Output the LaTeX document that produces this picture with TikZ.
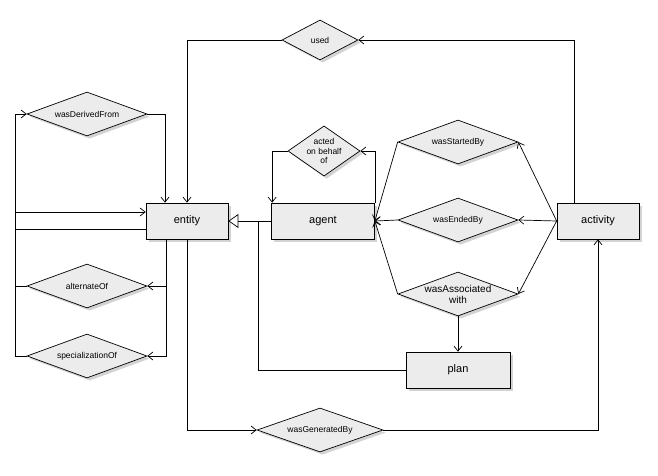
\documentclass[tikz,border=0pt]{standalone}
\usepackage{fontspec}
\setmainfont{Liberation Sans}
\usetikzlibrary{shapes.geometric,arrows.meta,shadows}

\begin{document}
\begin{tikzpicture}[x=1pt,y=-1pt, line width=0.7pt,
	box/.style={draw, fill=gray!15, drop shadow={opacity=0.35}, minimum width=82pt, minimum height=36pt, font=\fontsize{11}{12}\selectfont},
	rel/.style={draw, diamond, fill=gray!15, drop shadow={opacity=0.35}, aspect=2.7, inner sep=0pt, minimum width=120pt, minimum height=44pt, align=center, font=\fontsize{8.5}{9.5}\selectfont},
	arr/.style={-{Straight Barb[length=5pt,width=8pt]}}]

	\useasboundingbox (0,0) rectangle (658,476);

	%classes
	\node[box] (entity) at (187,221) {entity};
	\node[box, minimum width=103pt] (agent) at (323,221) {agent};
	\node[box] (activity) at (598,221) {activity};
	\node[box, minimum width=104pt] (plan) at (458,370) {plan};

	%relations
	\node[rel, minimum width=76pt, minimum height=40pt] (used) at (320,40) {used};
	\node[rel] (derived) at (87,114) {wasDerivedFrom};
	\node[rel, minimum width=72pt, aspect=1.4] (behalf) at (324,151) {acted\\on behalf\\of};
	\node[rel] (started) at (458,142) {wasStartedBy};
	\node[rel] (ended) at (458,220) {wasEndedBy};
	\node[rel, font=\fontsize{10}{11}\selectfont] (assoc) at (458,294) {wasAssociated\\with};
	\node[rel] (alternate) at (87,286) {alternateOf};
	\node[rel] (special) at (87,356) {specializationOf};
	\node[rel, minimum width=126pt] (generated) at (320,430) {wasGeneratedBy};

	%used
	\draw[arr] ([xshift=18pt]activity.north west) |- (used.east);
	\draw[arr] (used.west) -| (entity.north);

	%derivation
	\draw[arr] ([yshift=-8pt]entity.west) -| (15,114) -- (derived.west);
	\draw[arr] (derived.east) -| ([xshift=-22pt]entity.north);

	%alternate and specialization
	\draw[arr] (alternate.west) -- (15,286) |- ([yshift=9pt]entity.west);
	\draw (special.west) -| (15,286);
	\draw[arr] ([xshift=-21pt]entity.south) |- (special.east);
	\draw[arr] (166,286) -- (alternate.east);

	%generation
	\draw[arr] (entity.south) |- (generated.west);
	\draw[arr] (generated.east) -| (activity.south);

	%agent
	\draw[-{Triangle[open,fill=white,length=10pt,width=14pt]}] (agent.west) -- (entity.east);
	\draw (258,221) |- (plan.west);
	\draw[arr] (agent.north east) |- (behalf.east);
	\draw[arr] (behalf.west) -| ([xshift=1pt]agent.north west);

	%activity to agent
	\foreach \r in {started, ended, assoc} {
		\draw[arr] (activity.west) -- (\r.east);
		\draw[arr] (\r.west) -- (agent.east);
	}
	\draw[arr] (assoc.south) -- (plan.north);

\end{tikzpicture}
\end{document}
